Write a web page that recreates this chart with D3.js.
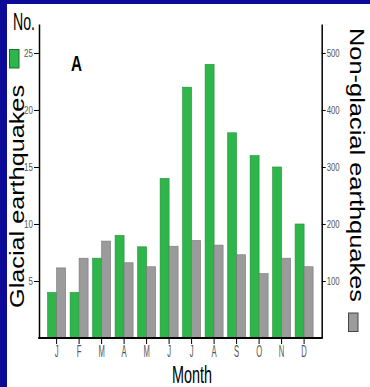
<!DOCTYPE html>
<html>
<head>
<meta charset="utf-8">
<script src="https://cdn.jsdelivr.net/npm/d3@7"></script>
<style>
  body { margin: 0; background: #0b0b97; }
  svg { display: block; }
</style>
</head>
<body>
<svg id="chart"></svg>
<script>
var width = 370,
    height = 387;

// monthly counts
var months = ["J", "F", "M", "A", "M", "J", "J", "A", "S", "O", "N", "D"];
var glacial = [4, 4, 7, 9, 8, 14, 22, 24, 18, 16, 15, 10];          // left axis
var nonGlacial = [123, 140, 170, 132, 125, 161, 171, 163, 146, 113, 140, 125]; // right axis
var leftTicks = [5, 10, 15, 20, 25];
var rightTicks = [100, 200, 300, 400, 500];

var green = "#2fb64a",
    grey = "#9b9b9b";

var svg = d3.select("#chart").attr("width", width).attr("height", height);

// white panel inside the blue frame
svg.append("rect")
    .attr("x", 7).attr("y", 4)
    .attr("width", width - 7).attr("height", height - 4)
    .attr("fill", "#fff");

// note: "top" is taken by window.top, so plotTop
var plotLeft = 39, plotRight = 321.7, base = 338, plotTop = 24;

var x = d3.scaleBand()
    .domain(d3.range(months.length))
    .range([plotLeft, plotRight])
    .paddingInner(0.2)
    .paddingOuter(0.382);

var yL = d3.scaleLinear().domain([0, 27.54]).range([base, plotTop]);
var yR = d3.scaleLinear().domain([0, 550.8]).range([base, plotTop]);

var half = x.bandwidth() / 2;

// bars
var g = svg.append("g");
g.selectAll("rect.gl")
    .data(glacial)
    .enter().append("rect")
    .attr("class", "gl")
    .attr("x", function(d, i) { return x(i); })
    .attr("y", function(d) { return yL(d); })
    .attr("width", half)
    .attr("height", function(d) { return base - yL(d); })
    .attr("fill", green)
    .attr("stroke", "#23903a")
    .attr("stroke-width", 0.6);

g.selectAll("rect.ng")
    .data(nonGlacial)
    .enter().append("rect")
    .attr("class", "ng")
    .attr("x", function(d, i) { return x(i) + half; })
    .attr("y", function(d) { return yR(d); })
    .attr("width", half)
    .attr("height", function(d) { return base - yR(d); })
    .attr("fill", grey)
    .attr("stroke", "#767676")
    .attr("stroke-width", 0.6);

// squeeze the tick labels horizontally (the original uses a narrow face)
function narrow(sel, k) {
  sel.selectAll(".tick text").each(function() {
    var t = d3.select(this);
    var tx = +t.attr("x") || 0;
    t.attr("x", tx / k).attr("transform", "scale(" + k + ",1)");
  });
}

var font = "Arial, 'Liberation Sans', sans-serif";

// left axis
var axL = svg.append("g")
    .attr("transform", "translate(" + plotLeft + ",0)")
    .call(d3.axisLeft(yL).tickValues(leftTicks).tickSize(5).tickPadding(1).tickSizeOuter(0));
axL.select(".domain").attr("stroke-width", 1.5);
axL.selectAll("text").attr("font-family", font)
    .attr("font-size", 10).attr("fill", "#555");
narrow(axL, 0.8);

// right axis
var axR = svg.append("g")
    .attr("transform", "translate(" + plotRight + ",0)")
    .call(d3.axisRight(yR).tickValues(rightTicks).tickSize(4).tickPadding(1).tickSizeOuter(0));
axR.select(".domain").attr("stroke-width", 1.5);
axR.selectAll("text").attr("font-family", font)
    .attr("font-size", 10).attr("fill", "#555");
narrow(axR, 0.78);

// bottom axis, ticks sit between the two bars of a month
var axB = svg.append("g")
    .attr("transform", "translate(0," + base + ")")
    .call(d3.axisBottom(x).tickFormat(function(i) { return months[i]; })
      .tickSize(6).tickPadding(1).tickSizeOuter(0));
axB.select(".domain").remove();
axB.selectAll("text").attr("font-family", font)
    .attr("font-size", 17).attr("fill", "#555");
narrow(axB, 0.45);

svg.append("line")
    .attr("x1", plotLeft - 0.75).attr("x2", plotRight + 0.75)
    .attr("y1", base).attr("y2", base)
    .attr("stroke", "#000").attr("stroke-width", 2);

// labels
svg.append("text")
    .attr("x", 13).attr("y", 30)
    .attr("font-family", font).attr("font-size", 23)
    .attr("textLength", 22).attr("lengthAdjust", "spacingAndGlyphs")
    .text("No.");

svg.append("text")
    .attr("x", 71).attr("y", 71)
    .attr("font-family", font).attr("font-size", 22).attr("font-weight", "bold")
    .attr("textLength", 11).attr("lengthAdjust", "spacingAndGlyphs")
    .text("A");

svg.append("text")
    .attr("x", 172).attr("y", 383)
    .attr("font-family", font).attr("font-size", 23)
    .attr("textLength", 40).attr("lengthAdjust", "spacingAndGlyphs")
    .text("Month");

svg.append("text")
    .attr("transform", "translate(24,196.5) rotate(-90)")
    .attr("text-anchor", "middle")
    .attr("font-family", font).attr("font-size", 21)
    .attr("textLength", 223).attr("lengthAdjust", "spacingAndGlyphs")
    .text("Glacial earthquakes");

svg.append("text")
    .attr("transform", "translate(350,165) rotate(90)")
    .attr("text-anchor", "middle")
    .attr("font-family", font).attr("font-size", 21)
    .attr("textLength", 274).attr("lengthAdjust", "spacingAndGlyphs")
    .text("Non-glacial earthquakes");

// legend keys
svg.append("rect")
    .attr("x", 9.5).attr("y", 49.5).attr("width", 9.5).attr("height", 18.5)
    .attr("fill", green).attr("stroke", "#1f6b30").attr("stroke-width", 1);
svg.append("rect")
    .attr("x", 348.5).attr("y", 313).attr("width", 9.5).attr("height", 18.5)
    .attr("fill", grey).attr("stroke", "#444").attr("stroke-width", 1);
</script>
</body>
</html>
